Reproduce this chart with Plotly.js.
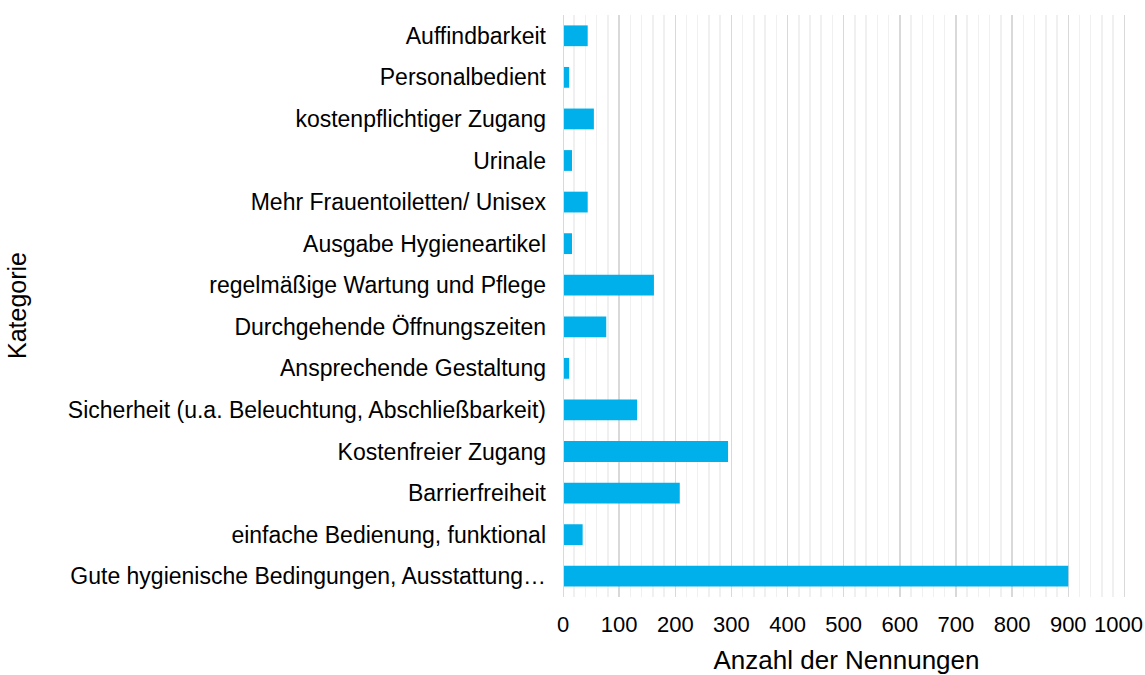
<!DOCTYPE html>
<html>
<head>
<meta charset="utf-8">
<script src="https://cdn.plot.ly/plotly-3.0.1.min.js"></script>
<style>html,body{margin:0;padding:0;background:#fff;}#chart{width:1145px;height:675px;}</style>
</head>
<body>
<div id="chart"></div>
<script>
const categories = [
  "Auffindbarkeit",
  "Personalbedient",
  "kostenpflichtiger Zugang",
  "Urinale",
  "Mehr Frauentoiletten/ Unisex",
  "Ausgabe Hygieneartikel",
  "regelmäßige Wartung und Pflege",
  "Durchgehende Öffnungszeiten",
  "Ansprechende Gestaltung",
  "Sicherheit (u.a. Beleuchtung, Abschließbarkeit)",
  "Kostenfreier Zugang",
  "Barrierfreiheit",
  "einfache Bedienung, funktional",
  "Gute hygienische Bedingungen, Ausstattung…"
];
const counts = [44, 11, 55, 16, 44, 16, 162, 77, 11, 132, 294, 208, 35, 900];
const xTickValues = [0, 100, 200, 300, 400, 500, 600, 700, 800, 900, 1000];

const trace = {
  type: 'bar',
  orientation: 'h',
  y: categories,
  x: counts,
  marker: {color: '#00B0EA'},
  hoverinfo: 'x+y'
};

const xMax = 1010;
const marginL = 563;
const plotW = Math.round(561 * xMax / 1000);
const lastTick = xTickValues[xTickValues.length - 1];

const layout = {
  width: 1145,
  height: 675,
  margin: {l: marginL, r: 1145 - marginL - plotW, t: 15, b: 78},
  paper_bgcolor: '#fff',
  plot_bgcolor: '#fff',
  bargap: 0.5,
  showlegend: false,
  font: {family: 'Liberation Sans, Arial, sans-serif', size: 22, color: '#000'},
  xaxis: {
    range: [0, xMax],
    tickvals: xTickValues,
    // the last label is drawn as an annotation, nudged left so it stays inside the page
    ticktext: xTickValues.map(v => v === lastTick ? '' : String(v)),
    showgrid: true,
    gridcolor: '#d9d9d9',
    gridwidth: 1.5,
    minor: {dtick: 20, showgrid: true, gridcolor: '#f0f0f0', gridwidth: 1.5},
    zeroline: false,
    showline: false,
    ticks: '',
    ticklabelstandoff: 12,
    tickfont: {size: 22, color: '#000'},
    title: {text: 'Anzahl der Nennungen', font: {size: 26, color: '#000'}, standoff: 22},
    fixedrange: true
  },
  yaxis: {
    type: 'category',
    autorange: 'reversed',
    showgrid: false,
    zeroline: false,
    showline: false,
    ticks: '',
    ticklabelstandoff: 16,
    tickfont: {size: 23, color: '#000'},
    fixedrange: true
  },
  annotations: [{
    text: 'Kategorie',
    xref: 'paper', yref: 'paper',
    x: (17 - marginL) / plotW, y: 0.5,
    xanchor: 'center', yanchor: 'middle',
    showarrow: false, textangle: -90,
    font: {size: 25, color: '#000'}
  }, {
    text: String(lastTick),
    xref: 'x', yref: 'paper',
    x: lastTick, y: 0,
    xanchor: 'center', yanchor: 'middle',
    xshift: -6, yshift: -27,
    showarrow: false,
    font: {size: 22, color: '#000'}
  }],
  shapes: [{
    type: 'line', xref: 'x', yref: 'paper', x0: 0, x1: 0, y0: 0, y1: 1,
    line: {color: '#d9d9d9', width: 2}
  }]
};

Plotly.newPlot('chart', [trace], layout, {displayModeBar: false, staticPlot: true});
</script>
</body>
</html>
